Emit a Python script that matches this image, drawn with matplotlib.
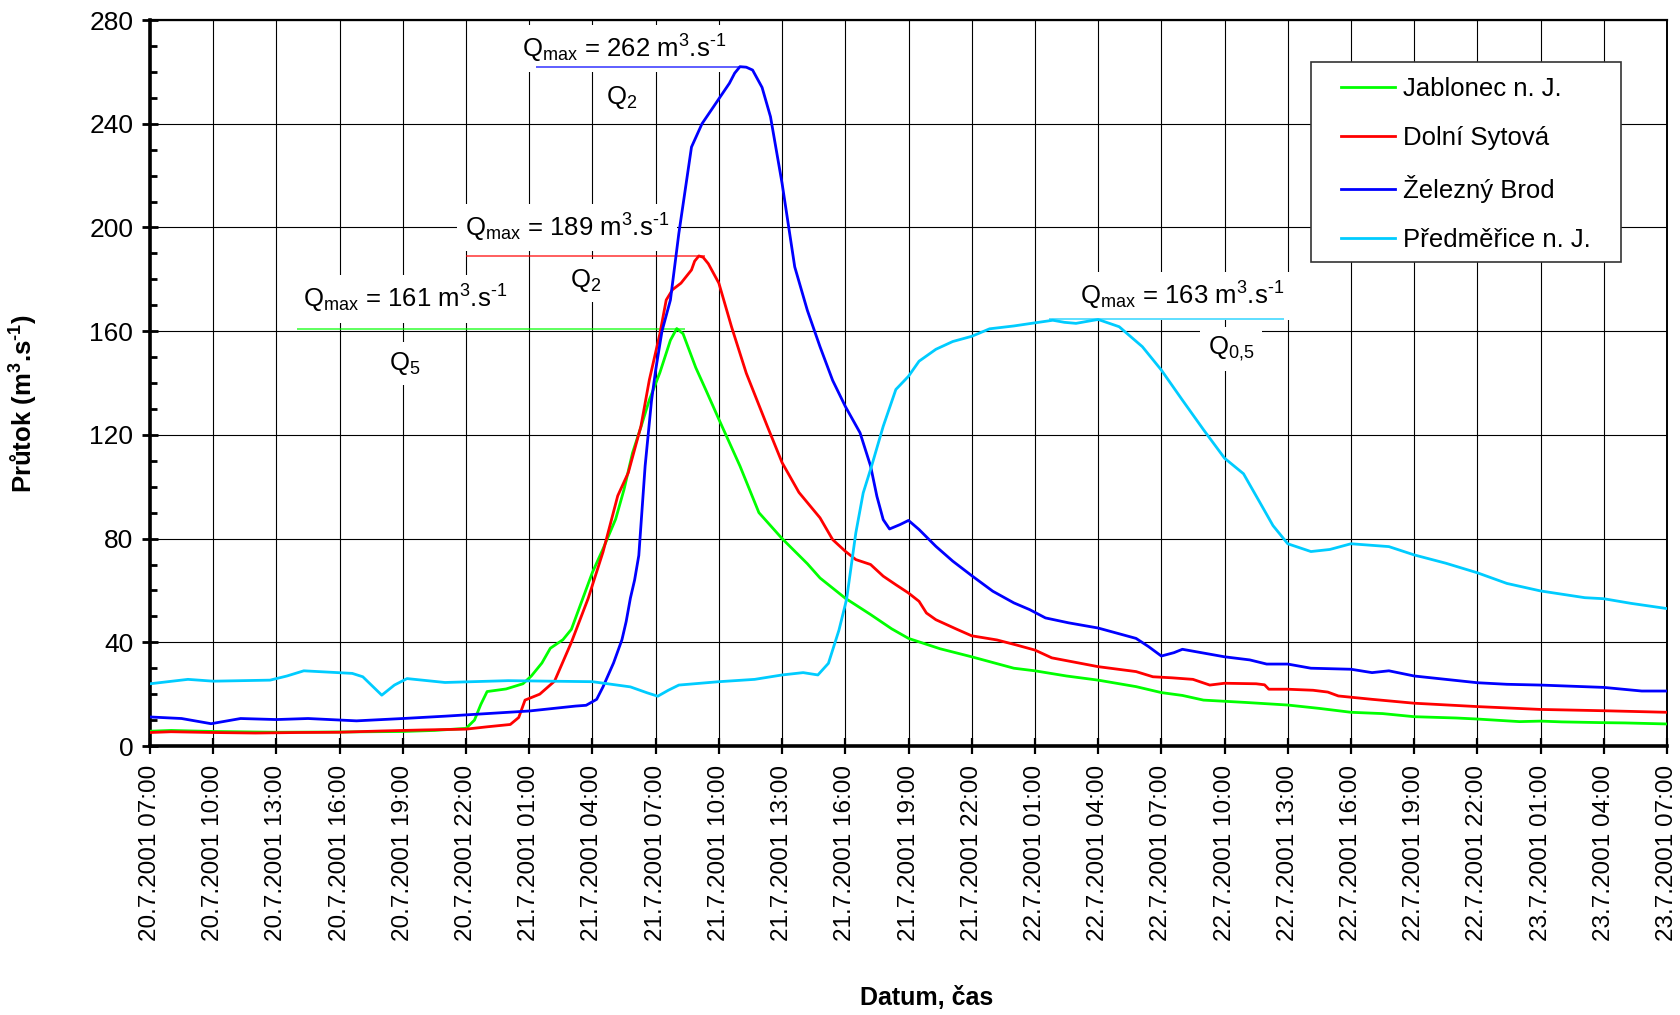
import numpy as np
import pandas as pd
import matplotlib
matplotlib.use('Agg')
import matplotlib.pyplot as plt
import matplotlib.dates as mdates
from matplotlib.ticker import MultipleLocator, FuncFormatter
from matplotlib.patches import Rectangle

plt.rcParams['font.family'] = ['Liberation Sans', 'DejaVu Sans']
plt.rcParams['mathtext.fontset'] = 'custom'
plt.rcParams['mathtext.rm'] = 'Liberation Sans'
plt.rcParams['mathtext.it'] = 'Liberation Sans:italic'
plt.rcParams['mathtext.bf'] = 'Liberation Sans:bold'
plt.rcParams['mathtext.default'] = 'regular'

# Data: hours after 20.7.2001 07:00, discharge in m3/s
t0 = pd.Timestamp('2001-07-20 07:00')

jab_h = [0, 1, 3, 6, 9, 12, 13.5, 15, 15.4, 15.7, 16, 16.9, 17.7, 18.1, 18.6,
         19, 19.6, 20, 20.5, 21, 21.5, 22.1, 22.5, 22.9, 23.3, 23.7, 24.2, 24.7,
         25.0, 25.3, 25.9, 26.4, 27, 28, 28.9, 30, 31.2, 31.8, 33, 34.2, 35.2,
         36, 37.5, 39, 41, 42, 43.5, 45, 46.8, 48, 49, 50, 52, 54, 55.5, 57,
         58.5, 60, 62, 63, 65, 66, 67, 69, 70, 72]
jab_q = [5.7, 6.0, 5.6, 5.3, 5.4, 5.6, 6.0, 6.8, 10, 16, 21, 22, 24, 27, 32,
         37.7, 41, 45, 56, 67, 76, 87.5, 99, 113, 123, 133.5, 144, 156.5,
         161, 159, 146, 137, 126, 108, 90, 80, 70.3, 64.8, 57, 50.7, 45.2,
         41.5, 37.5, 34.4, 30, 29, 27, 25.4, 22.9, 20.6, 19.5, 17.7, 16.8,
         15.8, 14.5, 13, 12.5, 11.3, 10.8, 10.4, 9.4, 9.6, 9.3, 9, 8.9, 8.5]

syt_h = [0, 1, 3, 5, 7, 9, 11, 13, 15, 16, 17.1, 17.5, 17.8, 18.5, 19.2, 20,
         20.8, 21.5, 22.2, 22.7, 23.3, 23.7, 24.2, 24.5, 24.8, 25.2, 25.7,
         25.85, 26.05, 26.25, 26.5, 27, 27.6, 28.3, 29.3, 30, 30.8, 31.8,
         32.4, 33, 33.5, 34.2, 34.8, 35.4, 36, 36.5, 36.85, 37.3, 38.3, 39,
         40.2, 41.1, 42, 42.8, 45, 46.8, 47.6, 48.5, 49.5, 50.3, 51, 52.5,
         52.9, 53.1, 54, 55.2, 55.9, 56.4, 58, 60, 63, 66, 69, 72]
syt_q = [5.2, 5.5, 5.2, 5.0, 5.2, 5.3, 5.8, 6.2, 6.5, 7.4, 8.3, 11, 17.7, 20,
         25, 40, 57, 74.8, 96.5, 105.4, 123.3, 141.2, 159, 172, 176, 178.5,
         183.6, 187, 189, 188.5, 186, 178.5, 161.7, 143.8, 123.3, 109.3, 97.8,
         88, 79.6, 75.1, 71.9, 70, 65.5, 62.2, 59, 55.8, 51.3, 48.7, 45, 42.5,
         40.9, 39, 37, 34, 30.6, 28.7, 26.7, 26.3, 25.7, 23.5, 24.2, 24, 23.6,
         21.9, 21.9, 21.5, 20.8, 19.3, 18, 16.5, 15.2, 14.1, 13.6, 13]

brod_h = [0, 1.5, 2.9, 4.3, 6, 7.5, 9.8, 12, 14, 16, 18, 20.2, 20.7, 21.2,
          21.5, 22, 22.4, 22.6, 22.8, 23.0, 23.2, 23.5, 23.8, 24.0, 24.3,
          24.7, 25.1, 25.7, 26.2, 26.95, 27.5, 27.75, 28.0, 28.3, 28.6, 29.05,
          29.45, 30, 30.6, 31.2, 31.8, 32.4, 33, 33.7, 34.2, 34.5, 34.8, 35.1,
          35.6, 36, 36.5, 37.3, 38.1, 39, 40, 41, 41.75, 42.5, 43.6, 45, 46.8,
          47.4, 48, 48.6, 49, 51, 52.2, 53, 54, 55.1, 57, 58, 58.8, 60, 63,
          64.4, 66, 69, 70.8, 72]
brod_q = [11.2, 10.6, 8.6, 10.6, 10.2, 10.6, 9.7, 10.6, 11.5, 12.5, 13.5,
          15.4, 15.7, 18, 22.8, 32, 41, 48, 57, 64, 73.5, 108, 133, 145, 160,
          172, 197.7, 231, 240, 249, 255.6, 259.5, 262, 261.8, 260.7, 254,
          242.7, 217, 184.8, 168, 154, 141, 131, 120.8, 108, 96.3, 87.3, 83.7,
          85.4, 87, 83.5, 77, 71.3, 65.7, 59.7, 55.2, 52.6, 49.4, 47.5, 45.5,
          41.5, 38.3, 34.7, 36, 37.3, 34.4, 33.2, 31.6, 31.6, 30, 29.6, 28.3,
          29, 27, 24.4, 23.8, 23.5, 22.6, 21.2, 21.2]

pred_h = [0, 1.8, 3, 5.7, 6.5, 7.3, 9.6, 10.1, 11, 11.6, 12.2, 14, 17, 21,
          22.8, 23.6, 24.1, 24.6, 25.1, 27, 28.7, 30, 31, 31.7, 32.2, 32.7,
          33.06, 33.5, 33.85, 34.25, 34.8, 35.4, 36, 36.5, 37.3, 38.1, 39,
          39.85, 41, 42, 42.85, 43.4, 43.95, 44.5, 45, 46, 47.1, 48, 49, 50,
          51, 51.9, 52.7, 53.3, 54, 55.1, 56, 57, 58.8, 60, 61.5, 63, 64.4,
          66, 68.1, 69, 70.3, 72]
pred_q = [24, 25.7, 25, 25.4, 27, 29, 28, 26.7, 19.6, 23.5, 26, 24.5, 25.2,
          24.8, 22.8, 20.5, 19.2, 21.5, 23.5, 24.8, 25.7, 27.4, 28.3, 27.4,
          31.9, 44.7, 56.5, 82.2, 97.6, 108, 123.3, 137.5, 142.6, 148.4, 153,
          156, 158, 160.9, 162, 163.2, 164.2, 163.4, 163, 163.8, 164.5, 161.7,
          154, 145, 133.4, 122, 111, 105, 93.6, 85, 78, 75, 75.8, 78, 76.9,
          73.7, 70.5, 66.8, 62.7, 59.8, 57.2, 56.8, 55, 53]

names = ['Jablonec n. J.', 'Dolní Sytová', 'Železný Brod', 'Předměřice n. J.']
colors = ['#00ff00', '#ff0000', '#0000ff', '#00ccff']
hours = [jab_h, syt_h, brod_h, pred_h]
flows = [jab_q, syt_q, brod_q, pred_q]

# Qmax annotations: label, return period, line start/end (h), text pos (h, q)
qmax_text = ['161', '189', '262', '163']
q_period = ['5', '2', '2', '0{,}5']
line_h = [(7.0, 25.4), (15.0, 26.35), (18.3, 27.95), (42.65, 53.8)]
label_pos = [(12.1, 172.5), (19.8, 200), (22.5, 269), (49.0, 173.5)]
period_pos = [(12.1, 147.5), (20.7, 179.5), (22.4, 250), (51.3, 153)]


def to_time(h):
    return t0 + pd.to_timedelta(np.asarray(h, dtype=float), unit='h')


fig = plt.figure(figsize=(16.81, 10.15), dpi=100)
ax = fig.add_axes([150 / 1681, 1 - 746 / 1015, 1517 / 1681, 726 / 1015])

for h, q, name, c in zip(hours, flows, names, colors):
    ax.plot(to_time(h), q, color=c, lw=2.0, label=name, zorder=3)

box = dict(facecolor='white', edgecolor='none', boxstyle='square,pad=0.3')
for i in range(4):
    qm = max(flows[i])
    ax.hlines(qm, to_time(line_h[i][0]), to_time(line_h[i][1]),
              color=colors[i], lw=1.1, alpha=0.8, zorder=2.7)
    ax.text(to_time(label_pos[i][0]), label_pos[i][1],
            'Q$_{max}$ = ' + qmax_text[i] + ' m$^{3}$.s$^{\u20101}$',
            fontsize=18.5, ha='center', va='center', bbox=box, zorder=2.6)
    ax.text(to_time(period_pos[i][0]), period_pos[i][1],
            'Q$_{' + q_period[i] + '}$',
            fontsize=18.5, ha='center', va='center', bbox=box, zorder=2.6)

ax.set_xlim(t0, t0 + pd.Timedelta(hours=72))
ax.set_ylim(0, 280)
ax.yaxis.set_major_locator(MultipleLocator(40))
ax.yaxis.set_minor_locator(MultipleLocator(10))
ax.xaxis.set_major_locator(mdates.HourLocator(byhour=range(1, 24, 3)))


def fmt_date(x, pos):
    d = mdates.num2date(x)
    return f'{d.day}.{d.month}.{d.year} {d:%H:%M}'


ax.xaxis.set_major_formatter(FuncFormatter(fmt_date))
ax.grid(True, which='major', color='black', lw=0.8)

ax.tick_params(axis='y', which='major', direction='inout', length=12,
               width=2, labelsize=19, pad=6)
ax.tick_params(axis='y', which='minor', direction='in', length=5, width=2)
ax.tick_params(axis='x', which='major', direction='inout', length=11,
               width=1.6, labelsize=17.5, pad=8, labelrotation=90)

ax.spines['left'].set_linewidth(2.6)
ax.spines['bottom'].set_linewidth(2.6)
ax.spines['top'].set_linewidth(1.6)
ax.spines['right'].set_linewidth(1.4)

ax.set_ylabel('Průtok (m$^{3}$.s$^{\u20101}$)', fontsize=18.5,
              fontweight='bold')
ax.yaxis.set_label_coords(-0.0725, 0.471)
ax.set_xlabel('Datum, čas', fontsize=18, fontweight='bold')
ax.xaxis.set_label_coords(0.512, -0.331)

# legend frame drawn as a rectangle, legend itself without frame
ax.add_patch(Rectangle((0.765, 0.667), 0.205, 0.275, transform=ax.transAxes,
                       facecolor='white', edgecolor='#333333', lw=1.2,
                       zorder=4))
leg = ax.legend(loc='upper left', bbox_to_anchor=(0.785, 0.9218),
                frameon=False, fontsize=18.5, handlelength=2.1,
                handletextpad=0.3, labelspacing=0.98, borderpad=0,
                borderaxespad=0)
leg.set_zorder(5)

fig.savefig('out.png', dpi=100)
